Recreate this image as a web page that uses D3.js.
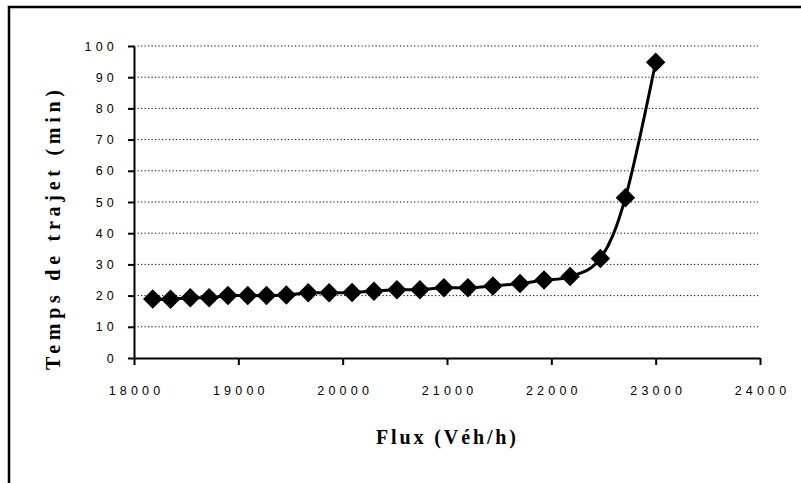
<!DOCTYPE html>
<html>
<head>
<meta charset="utf-8">
<script src="https://cdn.jsdelivr.net/npm/d3@7"></script>
<style>
  html, body { margin: 0; padding: 0; background: #fff; }
  #chart { width: 801px; height: 483px; }
</style>
</head>
<body>
<div id="chart"></div>
<script>
// flux (veh/h) et temps de trajet (min)
const flux = [18180, 18350, 18540, 18720, 18900, 19090, 19270, 19460, 19670, 19870,
  20090, 20300, 20520, 20740, 20970, 21200, 21440, 21700, 21930, 22180, 22470, 22710, 23000];
const temps = [18.9, 18.8, 19.3, 19.3, 20.0, 20.0, 20.0, 20.2, 20.9, 20.9,
  21.0, 21.4, 21.9, 21.9, 22.5, 22.5, 23.1, 23.9, 25.0, 26.1, 31.9, 51.4, 94.8];
const xTicks = [18000, 19000, 20000, 21000, 22000, 23000, 24000];
const yTicks = [0, 10, 20, 30, 40, 50, 60, 70, 80, 90, 100];

const _width = 801;
const _height = 483;
const _margin = {left: 134, right: 41, top: 46, bottom: 125};

const svg = d3.select("#chart").append("svg")
  .attr("width", _width)
  .attr("height", _height);

// cadre (coupe a droite et en bas)
svg.append("rect")
  .attr("x", 9).attr("y", 7)
  .attr("width", _width + 20).attr("height", _height + 20)
  .attr("fill", "none")
  .attr("stroke", "#000")
  .attr("stroke-width", 2.5);

const x = d3.scaleLinear()
  .domain([18000, 24000])
  .range([_margin.left, _width - _margin.right]);

const y = d3.scaleLinear()
  .domain([0, 100])
  .range([_height - _margin.bottom, _margin.top]);

const tickFont = "'Liberation Sans', Arial, sans-serif";
const titleFont = "'Liberation Serif', 'Times New Roman', serif";

// lignes de grille pointillees
svg.append("g")
  .selectAll("line")
  .data(yTicks.filter(d => d > 0)).enter()
  .append("line")
  .attr("x1", x(18000))
  .attr("x2", x(24000) - 2)
  .attr("y1", d => y(d))
  .attr("y2", d => y(d))
  .attr("stroke", "#000")
  .attr("stroke-width", 1)
  .attr("stroke-dasharray", "1.2,2.3");

const yAxis = svg.append("g")
  .attr("transform", `translate(${x(18000)},0)`)
  .call(d3.axisLeft(y).tickValues(yTicks).tickSize(6).tickSizeOuter(0).tickPadding(14));

const xAxis = svg.append("g")
  .attr("transform", `translate(0,${y(0)})`)
  .call(d3.axisBottom(x).tickValues(xTicks).tickFormat(d3.format("d"))
    .tickSize(7).tickSizeOuter(0).tickPadding(21));

[yAxis, xAxis].forEach(axis => {
  axis.select(".domain").attr("stroke", "#000").attr("stroke-width", 2);
  axis.selectAll(".tick line").attr("stroke", "#000").attr("stroke-width", 2);
  axis.selectAll(".tick text")
    .attr("fill", "#000")
    .style("font-family", tickFont)
    .style("font-size", "12.5px")
    .style("letter-spacing", "4.2px");
});
xAxis.selectAll(".tick text").attr("dx", "2px");
yAxis.selectAll(".tick text").attr("dx", "4px");

// courbe lissee
const line = d3.line()
  .x((d, i) => x(flux[i]))
  .y(d => y(d))
  .curve(d3.curveCardinal.tension(0));

svg.append("path")
  .attr("d", line(temps))
  .attr("fill", "none")
  .attr("stroke", "#000")
  .attr("stroke-width", 3);

const diamond = d3.symbol().type(d3.symbolSquare).size(190);

svg.append("g")
  .selectAll("path")
  .data(temps).enter()
  .append("path")
  .attr("d", diamond())
  .attr("transform", (d, i) => `translate(${x(flux[i])},${y(d)}) rotate(45)`)
  .attr("fill", "#000");

// titres des axes
svg.append("text")
  .attr("x", 446)
  .attr("y", 444)
  .attr("text-anchor", "middle")
  .attr("font-family", titleFont)
  .attr("font-weight", "bold")
  .attr("font-size", 20)
  .attr("textLength", 140)
  .attr("lengthAdjust", "spacing")
  .text("Flux (Véh/h)");

svg.append("text")
  .attr("transform", "translate(60,230) rotate(-90)")
  .attr("text-anchor", "middle")
  .attr("font-family", titleFont)
  .attr("font-weight", "bold")
  .attr("font-size", 20)
  .attr("textLength", 280)
  .attr("lengthAdjust", "spacing")
  .text("Temps de trajet (min)");
</script>
</body>
</html>
